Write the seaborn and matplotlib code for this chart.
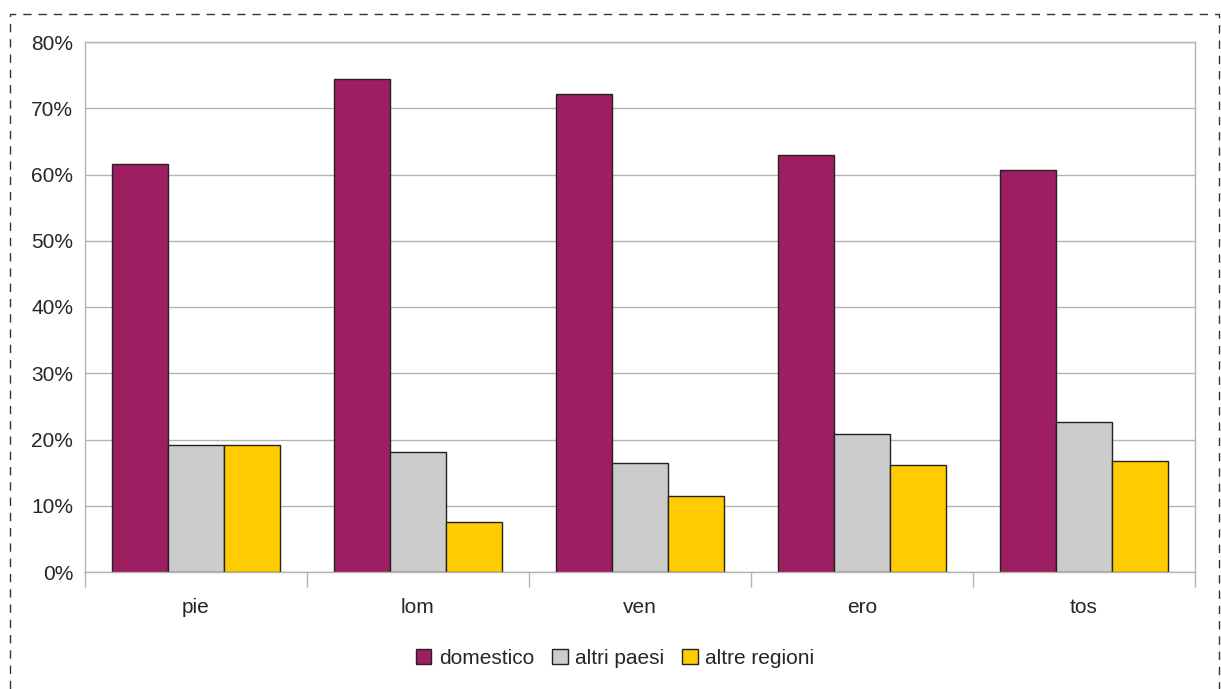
import matplotlib
matplotlib.use("Agg")
import matplotlib.pyplot as plt
from matplotlib.patches import Rectangle
from matplotlib.ticker import PercentFormatter, FixedLocator
import seaborn as sns
import pandas as pd

# dati
regioni = ["pie", "lom", "ven", "ero", "tos"]
serie = ["domestico", "altri paesi", "altre regioni"]
domestico = [61.6, 74.4, 72.2, 63.0, 60.7]
altri_paesi = [19.2, 18.1, 16.4, 20.9, 22.7]
altre_regioni = [19.2, 7.6, 11.5, 16.1, 16.7]
colori = ["#9e1e62", "#cccccc", "#ffcc00"]

df = pd.DataFrame({
    "regione": regioni * 3,
    "serie": [serie[0]] * 5 + [serie[1]] * 5 + [serie[2]] * 5,
    "valore": [v / 100 for v in domestico + altri_paesi + altre_regioni],
})

sns.set_style("white")
plt.rcParams["font.family"] = ["Liberation Sans", "DejaVu Sans"]

fig = plt.figure(figsize=(12.21, 6.89), dpi=100)
ax = fig.add_axes([85 / 1221, 1 - 572 / 689, 1110 / 1221, 530 / 689])

sns.barplot(data=df, x="regione", y="valore", hue="serie", order=regioni,
            hue_order=serie, palette=colori, width=0.757, gap=0,
            edgecolor="#222222", linewidth=1, saturation=1, ax=ax, legend=True)

ax.set_xlim(-0.5, 4.5)
ax.set_ylim(0, 0.8)
ax.set_yticks([i / 10 for i in range(9)])
ax.yaxis.set_major_formatter(PercentFormatter(1.0, decimals=0))
ax.grid(axis="y", color="#b3b3b3", linewidth=1)
ax.set_axisbelow(True)
ax.set_xlabel("")
ax.set_ylabel("")
for s in ax.spines.values():
    s.set_color("#b3b3b3")
    s.set_linewidth(1)

ax.tick_params(axis="y", left=False, labelsize=15, pad=5)
ax.tick_params(axis="x", which="major", length=0, labelsize=15, pad=19)
ax.xaxis.set_minor_locator(FixedLocator([-0.5, 0.5, 1.5, 2.5, 3.5, 4.5]))
ax.tick_params(axis="x", which="minor", bottom=True, length=11, width=1, color="#b3b3b3")

ax.get_legend().remove()
handles, labels = ax.get_legend_handles_labels()
fig.legend(handles[:3], labels[:3], loc="center", bbox_to_anchor=(615 / 1221, 1 - 658 / 689),
           ncol=3, frameon=False, fontsize=15, handlelength=0.75, handleheight=0.75,
           handletextpad=0.35, columnspacing=0.87)

# bordo tratteggiato
fig.patches.append(Rectangle((10 / 1221, -0.01), 1209 / 1221, 1 - 14 / 689 + 0.01,
                             transform=fig.transFigure, fill=False,
                             edgecolor="#333333", linewidth=1, linestyle=(0, (6, 5))))

fig.savefig("out.png", dpi=100)
